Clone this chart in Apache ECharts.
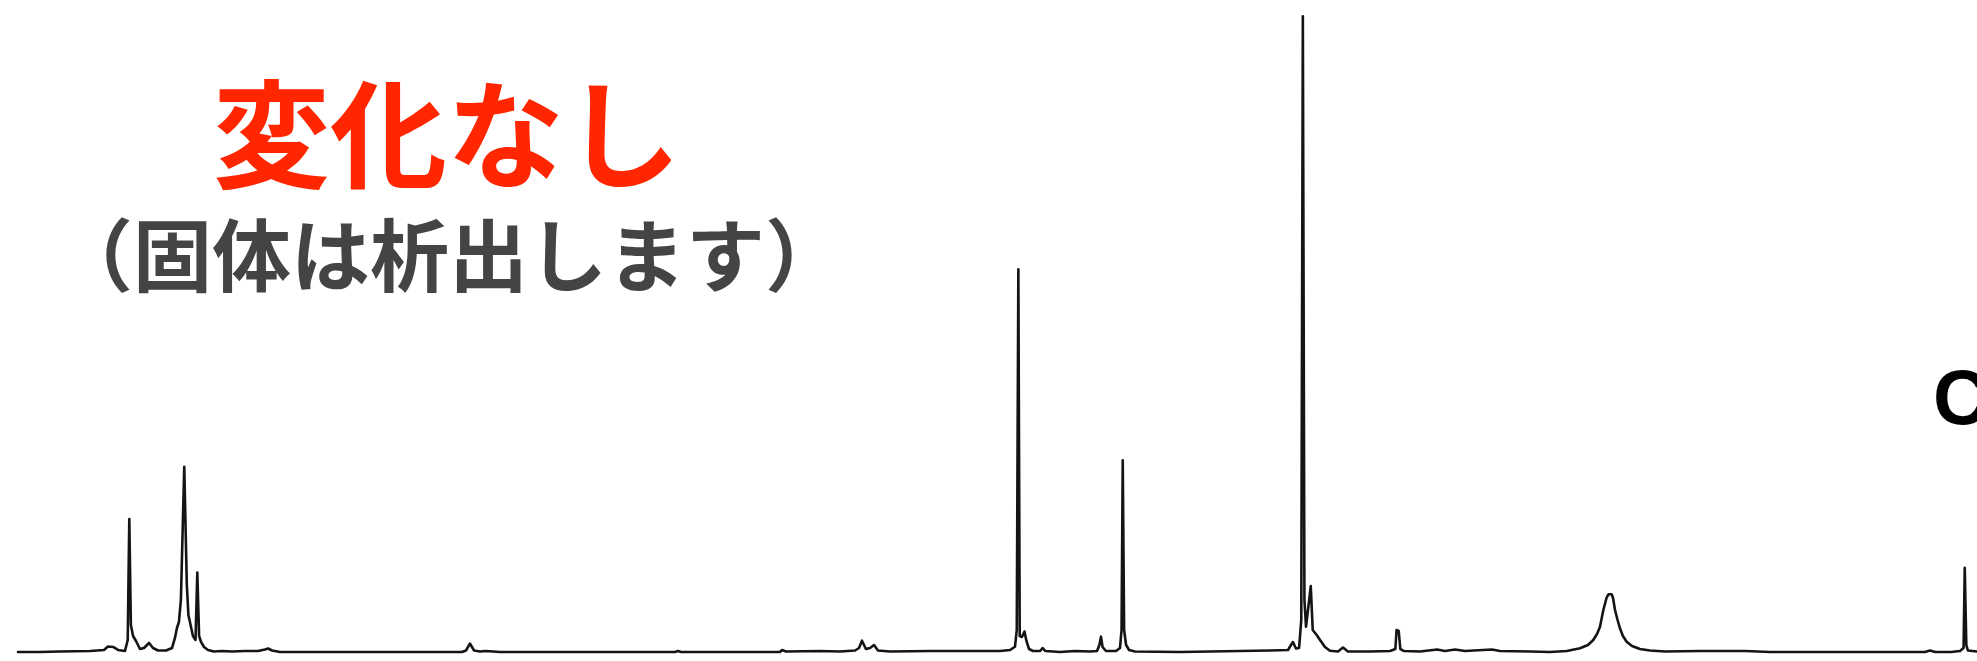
<!DOCTYPE html>
<html>
<head>
<meta charset="utf-8">
<script src="https://cdn.jsdelivr.net/npm/echarts@6/dist/echarts.min.js"></script>
<style>
html,body{margin:0;padding:0;background:#fff;}
#chart{width:1977px;height:661px;}
</style>
</head>
<body>
<div id="chart"></div>
<script>
// Spectrum: position (0-100 across the trace) and intensity (0-100 scale)
var shift = [
0.91,2.02,3.03,4.55,5.26,5.46,5.72,5.97,6.32,6.46,6.54,6.62,6.73,6.88,7.08,7.28,7.54,7.74,7.99,8.40,
8.70,8.85,8.95,9.05,9.15,9.32,9.45,9.53,9.64,9.76,9.89,9.98,10.07,10.17,10.32,10.52,10.82,11.23,11.73,12.39,
13.05,13.40,13.56,13.76,14.16,17.10,17.20,17.30,23.37,23.57,23.77,23.98,24.28,24.58,25.29,34.14,34.29,34.45,39.45,39.56,
39.76,41.48,42.49,43.25,43.45,43.60,43.80,44.01,44.21,44.41,45.02,47.04,49.06,50.58,51.09,51.34,51.43,51.51,51.58,51.69,
51.82,51.92,52.05,52.25,52.61,52.74,52.88,53.62,54.38,55.13,55.49,55.61,55.69,55.77,55.94,56.45,56.65,56.73,56.79,56.86,
56.96,57.11,57.41,59.69,62.72,64.24,65.15,65.30,65.40,65.55,65.71,65.82,65.90,65.98,66.06,66.19,66.30,66.40,66.60,66.77,
67.02,67.27,67.68,67.93,68.18,69.30,70.31,70.58,70.64,70.75,70.83,71.02,71.83,72.69,73.09,73.60,74.10,75.47,75.87,77.39,
78.40,79.25,79.92,80.32,80.59,80.78,80.93,81.10,81.26,81.36,81.44,81.52,81.59,81.69,81.82,81.94,82.09,82.28,82.55,82.95,83.46,84.22,
85.99,88.27,89.53,97.37,97.62,97.88,98.43,98.53,98.68,99.14,99.32,99.38,99.46,99.54,100.00
];
var intensity = [
0.00,0.00,0.08,0.15,0.31,0.84,0.77,0.31,0.15,1.84,20.4,4.14,2.45,1.69,0.46,0.61,1.38,0.61,0.23,0.23,
0.61,2.15,3.68,4.60,7.98,28.4,10.3,5.67,4.14,2.45,1.84,12.2,2.45,1.53,0.77,0.31,0.08,0.15,0.08,0.15,
0.15,0.38,0.54,0.23,0.00,0.00,0.15,0.00,0.00,0.23,1.30,0.23,0.08,0.15,0.00,0.00,0.15,0.00,0.00,0.31,
0.08,0.15,0.08,0.23,0.61,1.73,0.46,0.61,1.07,0.23,0.08,0.15,0.15,0.15,0.31,0.81,3.37,58.7,2.45,2.30,
3.14,1.69,0.46,0.15,0.15,0.61,0.15,0.00,0.15,0.08,0.15,1.07,2.35,0.77,0.15,0.15,0.61,3.37,29.4,3.37,
1.07,0.31,0.08,0.00,0.15,0.23,0.31,1.07,1.53,0.54,0.61,4.91,97.5,7.98,3.88,7.21,10.1,3.37,2.61,1.84,
0.77,0.20,0.08,0.69,0.08,0.08,0.15,0.46,3.37,3.22,0.46,0.15,0.08,0.38,0.15,0.38,0.15,0.38,0.15,0.08,
0.00,0.15,0.57,1.07,1.84,2.76,3.88,6.44,8.28,8.85,9.00,8.85,8.28,6.44,4.91,3.63,2.45,1.58,0.92,0.46,0.23,0.08,
0.15,0.15,0.00,0.00,0.23,0.00,0.00,0.23,0.00,0.15,0.61,12.9,1.07,0.23,0.08
];
var titleText = '変化なし';
var subtitleText = '（固体は析出します）';
var sideLabel = 'C';

var points = shift.map(function (s, i) { return [s, intensity[i]]; });

var chart = echarts.init(document.getElementById('chart'), null, {renderer: 'canvas'});
chart.setOption({
  animation: false,
  backgroundColor: '#ffffff',
  grid: {left: 0, right: 0, top: 0, bottom: 9, containLabel: false},
  xAxis: {type: 'value', min: 0, max: 100, show: false},
  yAxis: {type: 'value', min: 0, max: 100, show: false},
  series: [{
    type: 'line',
    data: points,
    showSymbol: false,
    symbol: 'none',
    clip: false,
    lineStyle: {color: '#141414', width: 2.6, join: 'round', cap: 'round'}
  }],
  graphic: [
    {type: 'text', x: 447, y: 135, style: {text: titleText, fill: '#ff2600',
      font: 'bold 117px "Noto Sans CJK JP"', textAlign: 'center', textVerticalAlign: 'middle'}},
    {type: 'text', x: 449, y: 256, style: {text: subtitleText, fill: '#444444',
      font: 'bold 79px "Noto Sans CJK JP"', textAlign: 'center', textVerticalAlign: 'middle'}},
    {type: 'text', x: 1933, y: 403, style: {text: sideLabel, fill: '#000000',
      font: 'bold 77px "Liberation Sans"', textAlign: 'left', textVerticalAlign: 'middle'}}
  ]
});
</script>
</body>
</html>
